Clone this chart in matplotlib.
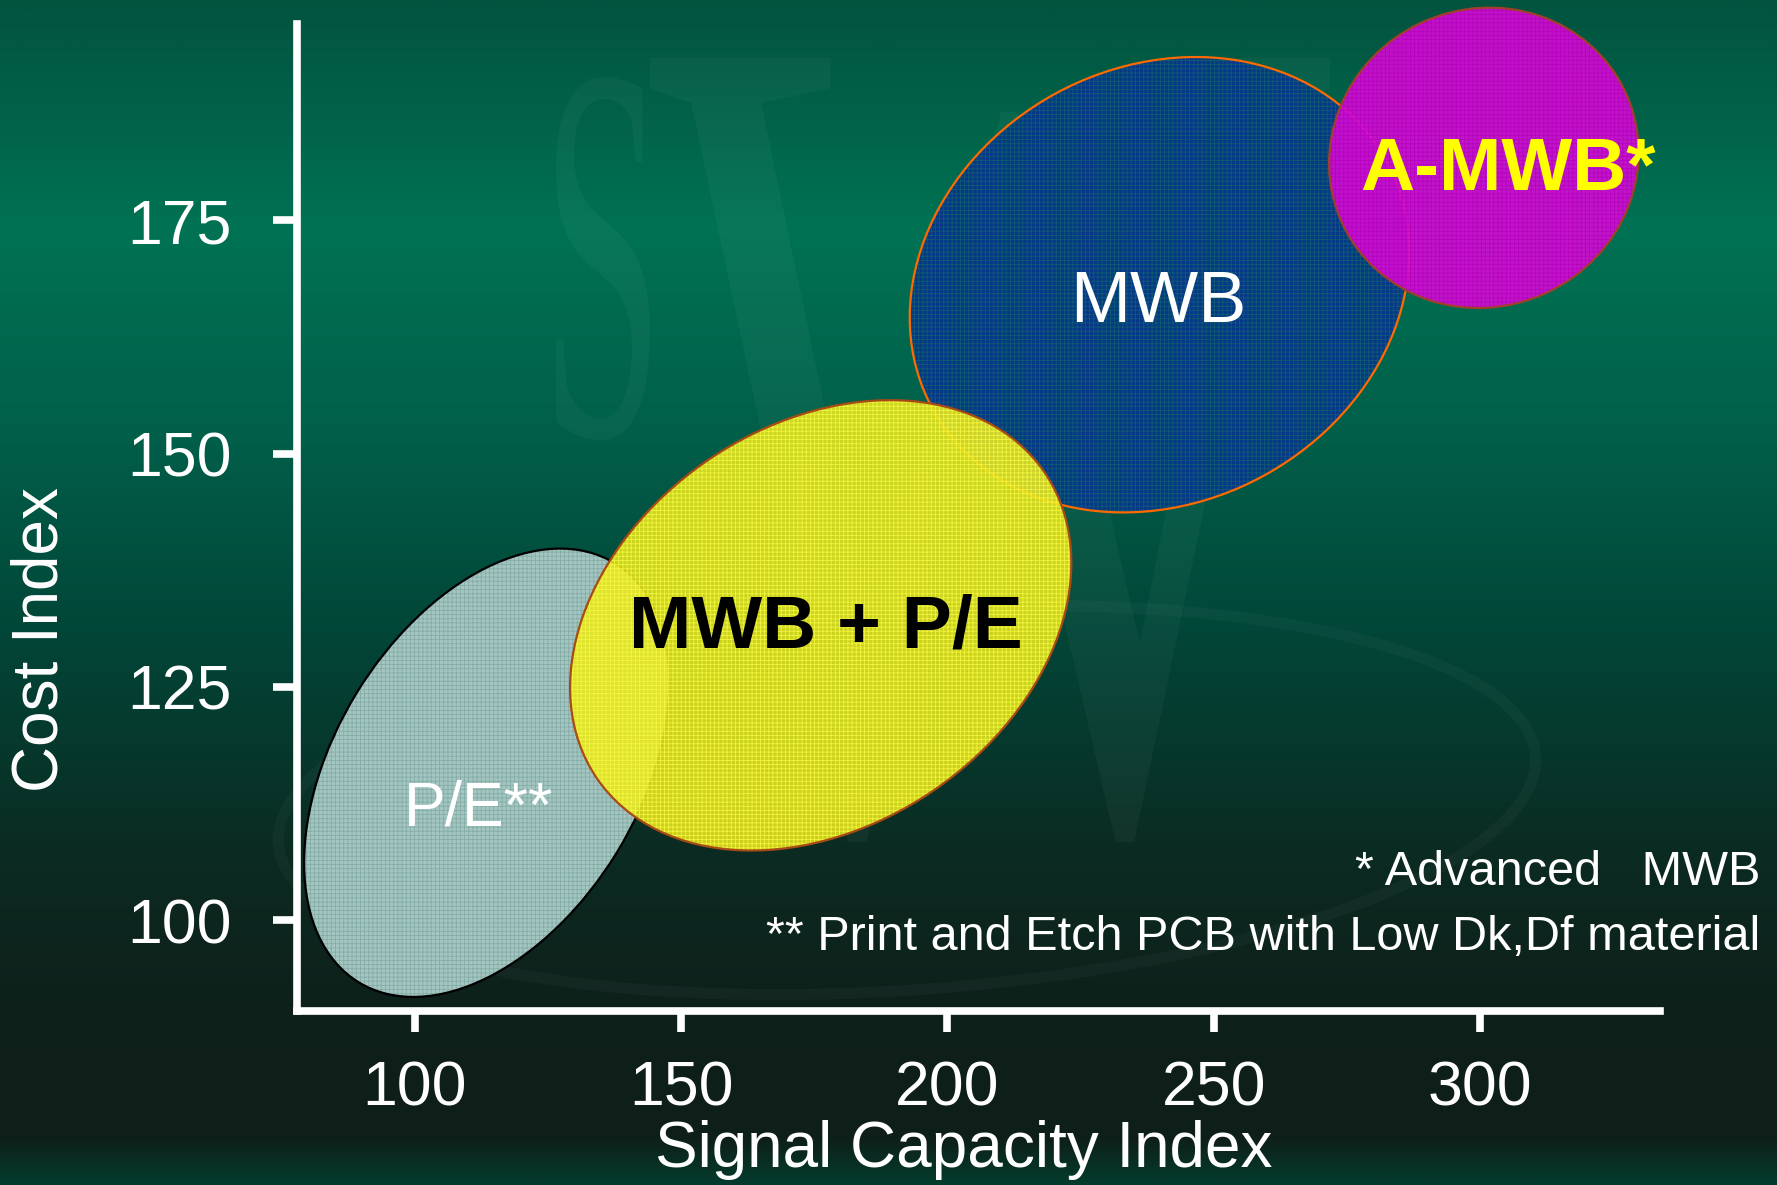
import numpy as np
import matplotlib.pyplot as plt
from matplotlib.patches import Ellipse, PathPatch
from matplotlib.transforms import Affine2D
from matplotlib.colors import LinearSegmentedColormap
from matplotlib.textpath import TextPath
from matplotlib.font_manager import FontProperties

plt.rcParams["font.family"] = ["Liberation Sans", "DejaVu Sans"]
plt.rcParams["hatch.linewidth"] = 0.6

# bubbles: centre on (signal capacity, cost), size/tilt measured in signal-index units
groups = ["P/E**", "MWB + P/E", "MWB", "A-MWB*"]
center_x = [113.5, 176.2, 239.8, 300.7]
center_y = [115.8, 131.6, 168.1, 181.7]
span_w = [92.2, 101.8, 97.1, 58.6]
span_h = [57.3, 75.1, 81.7, 55.9]
tilt = [58.6, 34.4, 28.7, 25.0]

# where each bubble name sits
label_x = [112.0, 177.1, 239.5, 305.2]
label_y = [110.2, 129.2, 164.1, 178.25]

x_ticks = [100, 150, 200, 250, 300]
y_ticks = [100, 125, 150, 175]

notes = ["* Advanced   MWB", "** Print and Etch PCB with Low Dk,Df material"]

# look of each bubble
fill_col = ["#a3c6c1", "#e8e81c", "#06388a", "#d40cd4"]
hatch_col = ["#86aca8", "#f8f840", "#0f5a6e", "#b800c0"]
edge_col = ["black", "#a84a14", "#ff6a00", "#a0402a"]
fill_alpha = [1.0, 0.88, 1.0, 0.9]
layer = [2, 3, 1, 4]
text_col = ["white", "black", "white", "#ffff00"]
text_weight = ["normal", "bold", "normal", "bold"]
text_size = [45, 54, 52, 54]

W, H = 1777, 1185
fig = plt.figure(figsize=(W / 100, H / 100), dpi=100)

# slide background: gradient plus the faint logo watermark
bg = fig.add_axes([0, 0, 1, 1], zorder=-1)
stops = [(0.0, "#02543f"), (0.05, "#025b44"), (0.19, "#007253"),
         (0.36, "#01604a"), (0.54, "#024537"), (0.72, "#0b2b22"),
         (0.84, "#0e211b"), (0.962, "#0f1e19"), (0.978, "#0a2b21"),
         (1.0, "#033b2c")]
cmap = LinearSegmentedColormap.from_list("slide", stops)
bg.imshow(np.linspace(0, 1, 512)[:, None], aspect="auto", cmap=cmap,
          extent=[0, W, H, 0])
bg.set_xlim(0, W)
bg.set_ylim(H, 0)
bg.set_axis_off()

serif = FontProperties(family="Liberation Serif")


def logo_letter(ch, x0, x1, y0, y1):
    path = TextPath((0, 0), ch, size=100, prop=serif)
    ext = path.get_extents()
    tr = (Affine2D().translate(-ext.x0, -ext.y1)
          .scale((x1 - x0) / ext.width, -(y1 - y0) / ext.height)
          .translate(x0, y0))
    bg.add_patch(PathPatch(tr.transform_path(path), facecolor="white",
                           edgecolor="none", alpha=0.035))


logo_letter("S", 556, 650, 77, 440)
logo_letter("W", 650, 1330, 58, 842)
bg.add_patch(Ellipse((907, 800), 1260, 380, angle=-4, fill=False,
                     edgecolor="white", linewidth=8, alpha=0.03))

ax = fig.add_axes([0.16713, 0.14684, 0.76703, 0.83291])
ax.patch.set_alpha(0)
ax.set_xlim(77.88, 333.77)
ax.set_ylim(90.27, 196.04)

# ratio of y-unit to x-unit on screen, so tilted bubbles keep their shape
p0, p1 = ax.transData.transform([(0, 0), (1, 1)])
k = (p1[1] - p0[1]) / (p1[0] - p0[0])

for i in range(len(groups)):
    tr = Affine2D().scale(1, 1 / k).translate(center_x[i], center_y[i]) + ax.transData
    body = Ellipse((0, 0), span_w[i], span_h[i], angle=tilt[i],
                   facecolor=fill_col[i], edgecolor=hatch_col[i], linewidth=0,
                   hatch="++++", alpha=fill_alpha[i], transform=tr,
                   zorder=layer[i], clip_on=False)
    ax.add_patch(body)
    rim = Ellipse((0, 0), span_w[i], span_h[i], angle=tilt[i], fill=False,
                  edgecolor=edge_col[i], linewidth=1.6, transform=tr,
                  zorder=layer[i] + 0.1, clip_on=False)
    ax.add_patch(rim)
    ax.text(label_x[i], label_y[i], groups[i], color=text_col[i],
            fontsize=text_size[i], fontweight=text_weight[i],
            ha="center", va="baseline", zorder=10, clip_on=False)

for side in ["top", "right"]:
    ax.spines[side].set_visible(False)
for side in ["left", "bottom"]:
    ax.spines[side].set_color("white")
    ax.spines[side].set_linewidth(5.5)

ax.set_xticks(x_ticks)
ax.set_yticks(y_ticks)
ax.tick_params(axis="x", colors="white", labelsize=45, length=15, width=5.5, pad=20)
ax.tick_params(axis="y", colors="white", labelsize=45, length=17, width=5.5, pad=30)

ax.set_xlabel("Signal Capacity Index", color="white", fontsize=46)
ax.xaxis.set_label_coords(0.489, -0.141)
ax.xaxis.label.set_va("center")
ax.set_ylabel("Cost Index", color="white", fontsize=46)
ax.yaxis.set_label_coords(-0.188, 0.376)
ax.yaxis.label.set_va("center")

fig.text(0.9905, 0.2532, notes[0], color="white", fontsize=35,
         ha="right", va="baseline")
fig.text(0.9905, 0.1983, notes[1], color="white", fontsize=35,
         ha="right", va="baseline")

fig.savefig("out.png", dpi=100)
